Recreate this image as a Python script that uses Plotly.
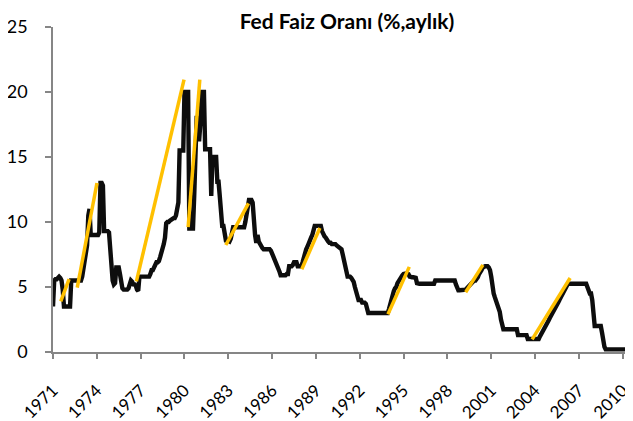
import plotly.graph_objects as go

# ---- monthly Fed funds rate (%), Jan 1971 .. Sep 2010 ----
rate_1971_1975 = [
    3.5, 5.5, 5.6, 5.6, 5.7, 5.8, 5.7, 5.5, 4.8, 3.5, 3.5, 3.5,
    3.5, 3.5, 3.5, 5.5, 5.5, 5.5, 5.5, 5.5, 5.5, 5.5, 5.5, 5.5,
    5.8, 6.3, 7.0, 7.5, 8.2, 10.5, 11.0, 9.0, 9.0, 9.0, 9.0, 9.0,
    9.0, 9.0, 9.2, 13.0, 13.0, 12.8, 9.3, 9.3, 9.3, 9.3, 9.2, 7.5,
    6.2, 5.5, 5.2, 5.3, 6.5, 6.5, 6.5, 6.0, 5.0, 4.9, 4.8, 4.8,
]
rate_1976_1980 = [
    4.8, 4.8, 4.9, 5.4, 5.5, 5.4, 5.2, 5.2, 5.1, 4.8, 4.7, 5.8,
    5.8, 5.8, 5.8, 5.8, 5.8, 5.8, 5.8, 5.8, 6.0, 6.3, 6.3, 6.5,
    6.8, 6.9, 6.9, 7.0, 7.3, 7.6, 7.9, 8.3, 8.8, 9.9, 10.0, 10.0,
    10.1, 10.2, 10.3, 10.3, 10.3, 10.5, 11.0, 11.5, 15.5, 15.5, 15.5, 15.5,
    20.0, 20.0, 20.0, 20.0, 9.5, 9.5, 9.5, 9.5, 12.0, 15.5, 18.0, 18.0,
]
rate_1981_1985 = [
    16.2, 17.5, 20.0, 20.0, 20.0, 15.6, 15.6, 15.6, 15.6, 15.6, 12.0, 15.0,
    15.0, 15.0, 15.0, 13.1, 13.1, 12.0, 10.4, 9.7, 9.7, 9.0, 8.6, 8.6,
    8.5, 8.5, 8.7, 9.5, 9.6, 9.6, 9.6, 9.6, 9.6, 9.6, 9.6, 9.6,
    9.6, 9.6, 10.0, 10.6, 11.0, 11.7, 11.7, 11.7, 11.5, 10.0, 9.0, 8.4,
    9.0, 8.5, 8.3, 8.0, 8.0, 7.9, 7.9, 7.9, 7.9, 7.9, 7.9, 7.8,
]
rate_1986_1990 = [
    7.6, 7.4, 7.2, 6.9, 6.8, 6.5, 6.2, 5.9, 5.9, 5.9, 5.9, 5.9,
    6.0, 6.0, 6.6, 6.6, 6.6, 6.7, 6.9, 6.9, 6.9, 6.6, 6.6, 6.6,
    6.6, 6.9, 7.3, 7.6, 7.9, 8.1, 8.4, 8.6, 8.8, 9.0, 9.4, 9.7,
    9.7, 9.7, 9.7, 9.7, 9.7, 9.3, 9.0, 8.9, 8.8, 8.6, 8.5, 8.4,
    8.4, 8.3, 8.3, 8.3, 8.3, 8.2, 8.1, 8.0, 8.0, 7.9, 7.5, 7.0,
]
rate_1991_1995 = [
    6.5, 6.1, 5.8, 5.8, 5.8, 5.7, 5.6, 5.4, 5.0, 4.6, 4.1, 4.0,
    4.0, 4.0, 3.8, 3.8, 3.8, 3.7, 3.3, 3.0, 3.0, 3.0, 3.0, 3.0,
    3.0, 3.0, 3.0, 3.0, 3.0, 3.0, 3.0, 3.0, 3.0, 3.0, 3.0, 3.0,
    3.3, 3.7, 4.2, 4.4, 4.7, 4.9, 5.0, 5.3, 5.5, 5.7, 5.8, 5.9,
    6.0, 6.05, 6.05, 6.05, 6.0, 5.8, 5.75, 5.75, 5.75, 5.75, 5.7, 5.3,
]
rate_1996_2000 = [
    5.25, 5.25, 5.25, 5.25, 5.25, 5.25, 5.25, 5.25, 5.25, 5.25, 5.25, 5.25,
    5.25, 5.25, 5.5, 5.5, 5.5, 5.5, 5.5, 5.5, 5.5, 5.5, 5.5, 5.5,
    5.5, 5.5, 5.5, 5.5, 5.5, 5.5, 5.5, 5.2, 4.8, 4.75, 4.75, 4.75,
    4.75, 4.75, 4.75, 4.8, 4.9, 5.0, 5.2, 5.25, 5.3, 5.4, 5.5, 5.5,
    5.6, 5.75, 6.0, 6.1, 6.3, 6.5, 6.6, 6.6, 6.6, 6.6, 6.5, 6.3,
]
rate_2001_2005 = [
    5.8, 5.0, 4.5, 4.2, 3.9, 3.75, 3.5, 3.1, 2.5, 2.0, 1.75, 1.75,
    1.75, 1.75, 1.75, 1.75, 1.75, 1.75, 1.75, 1.75, 1.75, 1.75, 1.3, 1.3,
    1.3, 1.3, 1.3, 1.3, 1.3, 1.3, 1.0, 1.0, 1.0, 1.0, 1.0, 1.0,
    1.0, 1.0, 1.0, 1.0, 1.2, 1.35, 1.5, 1.7, 1.9, 2.05, 2.25, 2.4,
    2.6, 2.75, 2.95, 3.1, 3.3, 3.5, 3.65, 3.8, 4.0, 4.2, 4.35, 4.5,
]
rate_2006_2010 = [
    4.7, 4.9, 5.05, 5.25, 5.25, 5.25, 5.25, 5.25, 5.25, 5.25, 5.25, 5.25,
    5.25, 5.25, 5.25, 5.25, 5.25, 5.25, 5.25, 5.0, 4.75, 4.5, 4.5, 4.0,
    3.0, 2.0, 2.0, 2.0, 2.0, 2.0, 2.0, 1.5, 0.8, 0.4, 0.2, 0.2,
    0.2, 0.2, 0.2, 0.2, 0.2, 0.2, 0.2, 0.2, 0.2, 0.2, 0.2, 0.2,
    0.2, 0.2, 0.2, 0.2, 0.2, 0.2, 0.2, 0.2, 0.2,
]

# ---- orange trend segments (start/end year, start/end value) ----
trend_x0 = [1971.53, 1972.66, 1976.71, 1980.25, 1982.83, 1988.03, 1993.93, 1999.25, 2003.80]
trend_y0 = [3.9, 4.95, 5.43, 9.6, 8.23, 6.37, 2.9, 4.6, 0.97]
trend_x1 = [1972.10, 1974.01, 1979.97, 1981.05, 1984.38, 1989.27, 1995.39, 2000.43, 2006.40]
trend_y1 = [5.6, 13.0, 20.95, 20.95, 11.43, 9.54, 6.55, 6.7, 5.69]

tick_years = list(range(1971, 2011, 3))
tick_labels = [str(y) for y in tick_years]
y_ticks = [0, 5, 10, 15, 20, 25]

rates = (rate_1971_1975 + rate_1976_1980 + rate_1981_1985 + rate_1986_1990 +
         rate_1991_1995 + rate_1996_2000 + rate_2001_2005 + rate_2006_2010)
years = [1971 + i / 12 for i in range(len(rates))]

FONT = "Lato"
fig = go.Figure()
fig.add_trace(go.Scatter(x=years, y=rates, mode="lines",
                         line=dict(color="#0d0d0d", width=4.4),
                         showlegend=False, hoverinfo="skip"))
for x0, y0, x1, y1 in zip(trend_x0, trend_y0, trend_x1, trend_y1):
    fig.add_trace(go.Scatter(x=[x0, x1], y=[y0, y1], mode="lines",
                             line=dict(color="#FFC000", width=3.5),
                             showlegend=False, hoverinfo="skip"))

# page body has an 8px margin; figure is sized/offset to compensate
fig.update_layout(
    width=625, height=413,
    margin=dict(l=45, r=0, t=19, b=69),
    paper_bgcolor="white", plot_bgcolor="white",
    font=dict(family=FONT, color="#000000", size=16),
    title=dict(text="<b>Fed Faiz Oranı (%,aylık)</b>", xref="container", yref="container",
               x=0.5424, y=0.968, xanchor="center", yanchor="middle",
               font=dict(family=FONT, size=21, color="#000000")),
)
fig.update_xaxes(range=[1971, 1971 + (633 - 53.3) / 14.6], automargin=False,
                 tickvals=tick_years, ticktext=tick_labels, tickangle=-45,
                 showgrid=False, zeroline=False, showline=True,
                 linecolor="#868686", linewidth=1.5,
                 ticks="outside", ticklen=5, tickwidth=1.5, tickcolor="#868686",
                 ticklabelstandoff=15, tickfont=dict(size=17))
fig.update_yaxes(range=[0, 25], tickvals=y_ticks, automargin=False,
                 showgrid=False, zeroline=False, showline=True,
                 linecolor="#868686", linewidth=1.5,
                 ticks="outside", ticklen=6, tickwidth=1.5, tickcolor="#868686",
                 ticklabelstandoff=14, tickfont=dict(size=18))

fig.write_html("out.html")
